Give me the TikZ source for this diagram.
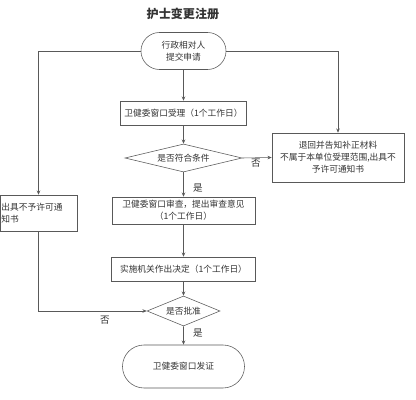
\documentclass[tikz,border=0pt]{standalone}
\usepackage{fontspec}
\setmainfont{Noto Sans CJK SC}
\usetikzlibrary{shapes.geometric,shapes.misc,arrows.meta}
\begin{document}
\begin{tikzpicture}[x=0.025cm, y=-0.025cm,
		every node/.style={font=\fontsize{6.2}{8.6}\selectfont, text=black!80},
		stepbox/.style={draw=black!65, rectangle, inner sep=0pt, align=center},
		endbox/.style={draw=black!65, rounded rectangle, inner sep=0pt, align=center},
		decide/.style={draw=black!65, diamond, inner sep=0pt},
		arr/.style={draw=black!65, -{Stealth[length=3pt,width=2.5pt]}},
		lbl/.style={font=\fontsize{6.8}{8}\selectfont}]
			\useasboundingbox (0,0) rectangle (416,400);
			\node [font=\fontsize{8.6}{10}\selectfont\bfseries] (title) at (183,14) {护士变更注册};
			\node [endbox, minimum width=2.125cm, minimum height=0.925cm] (start) at (183.5,51) {行政相对人\\提交申请};
			\node [stepbox, minimum width=3.15cm, minimum height=0.6cm] (accept) at (183.5,113) {卫健委窗口受理（1个工作日）};
			\node [decide, aspect=4.2, minimum width=2.925cm, minimum height=0.7cm] (check) at (183.5,158) {是否符合条件};
			\node [stepbox, minimum width=3.3cm, minimum height=1.225cm] (back) at (338,157.5) {退回并告知补正材料\\不属于本单位受理范围,出具不\\予许可通知书};
			\node [stepbox, minimum width=1.925cm, minimum height=0.9cm, align=left, text width=1.85cm] (refuse) at (38.5,213) {出具不予许可通\\知书};
			\node [stepbox, minimum width=3.575cm, minimum height=0.675cm] (review) at (183.5,210.5) {卫健委窗口审查，提出审查意见\\（1个工作日）};
			\node [stepbox, minimum width=3.6cm, minimum height=0.6cm] (decision) at (183.5,269) {实施机关作出决定（1个工作日）};
			\node [decide, aspect=2.4, minimum width=1.825cm, minimum height=0.75cm] (approve) at (183.5,311) {是否批准};
			\node [endbox, minimum width=3.05cm, minimum height=1.075cm] (issue) at (183.5,366.5) {卫健委窗口发证};
			% connectors
			\draw [arr] (start.west) -| (refuse.north);
			\draw [arr] (start.east) -| (back.north);
			\draw [arr] (start) -- (accept);
			\draw [arr] (accept) -- (check);
			\draw [arr] (check.east) -- (back.west);
			\draw [arr] (check) -- (review);
			\draw [arr] (review) -- (decision);
			\draw [arr] (decision) -- (approve);
			\draw [arr] (refuse.south) |- (approve.west);
			\draw [arr] (approve) -- (issue);
			\node [lbl] (no1) at (256,163) {否};
			\node [lbl] (yes1) at (198,188) {是};
			\node [lbl] (no2) at (105,320) {否};
			\node [lbl] (yes2) at (198,333) {是};
\end{tikzpicture}
\end{document}
